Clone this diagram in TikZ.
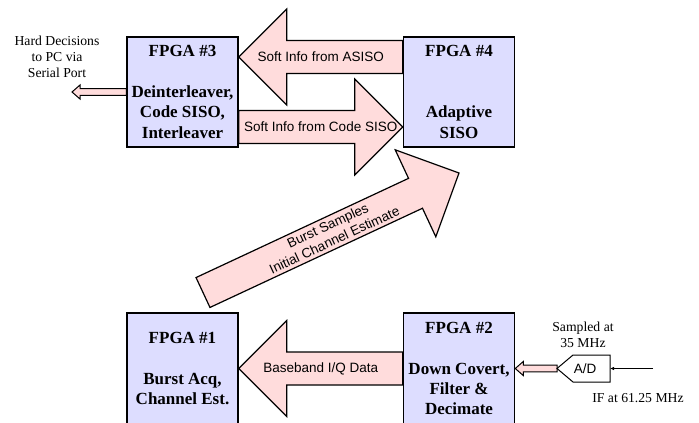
\documentclass[tikz,border=0pt]{standalone}
\usepackage{fontspec}
\setmainfont{Liberation Serif}
\newfontfamily\arialf{Liberation Sans}
\usetikzlibrary{calc,arrows.meta,backgrounds}
\definecolor{boxfill}{HTML}{DDDDFF}
\definecolor{arrfill}{HTML}{FFDCDC}
\tikzset{
 fpga/.style={draw=black, line width=1.5pt, fill=boxfill, minimum width=111pt, inner sep=0pt, align=center, font=\fontsize{17}{20.3}\selectfont\bfseries},
 bigarr/.style={draw=black, line width=1.2pt, fill=arrfill, line join=miter},
 smallarr/.style={draw=black, line width=1pt, fill=arrfill, line join=miter},
 arrlabel/.style={font=\arialf\fontsize{13.5}{16}\selectfont, align=center, inner sep=0pt},
 note/.style={font=\fontsize{13.7}{16}\selectfont, align=center, inner sep=0pt},
}
\newcommand\bigarrow[3]{%
 \coordinate (#1h) at ($(#3)!48pt!(#2)$);
 \draw[bigarr] ($(#2)!16.5pt!90:(#3)$) -- ($(#1h)!16.5pt!90:(#3)$) -- ($(#1h)!48pt!90:(#3)$) -- (#3) -- ($(#1h)!48pt!-90:(#3)$) -- ($(#1h)!16.5pt!-90:(#3)$) -- ($(#2)!16.5pt!-90:(#3)$) -- cycle;}
\newcommand\smallarrow[3]{%
 \coordinate (#1h) at ($(#3)!8pt!(#2)$);
 \draw[smallarr] ($(#2)!3.3pt!90:(#3)$) -- ($(#1h)!3.3pt!90:(#3)$) -- ($(#1h)!7pt!90:(#3)$) -- (#3) -- ($(#1h)!7pt!-90:(#3)$) -- ($(#1h)!3.3pt!-90:(#3)$) -- ($(#2)!3.3pt!-90:(#3)$) -- cycle;}
\begin{document}
\begin{tikzpicture}[x=1pt,y=-1pt]
\path[use as bounding box, clip] (0,0) rectangle (699,423);
% FPGA boxes
\node[fpga, minimum height=110pt] (f3) at (182.5,92) {FPGA \#3\\[20.3pt]Deinterleaver,\\Code SISO,\\Interleaver};
\node[fpga, minimum height=110pt] (f4) at (459,92) {FPGA \#4\\[40.6pt]Adaptive\\SISO};
\node[fpga, minimum height=111pt] (f1) at (182.5,368.5) {FPGA \#1\\[20.3pt]Burst Acq,\\Channel Est.};
\node[fpga, minimum height=111pt] (f2) at (459,368.5) {FPGA \#2\\[20.3pt]Down Covert,\\Filter \&\\Decimate};
% arrow end points
\coordinate (a1s) at ([yshift=35pt]f4.west);
\coordinate (a1t) at ([yshift=35pt]f3.east);
\coordinate (a2s) at ([yshift=-35pt]f3.east);
\coordinate (a2t) at ([yshift=-35pt]f4.west);
\coordinate (d1) at (203,292.5);
\coordinate (d2) at (459,173);
\coordinate (hd) at (72,92);
\coordinate (adL) at (557,368.5);
\coordinate (adR) at (610,368.5);
\coordinate (ifin) at (653,368.5);
\begin{pgfonlayer}{background}
\bigarrow{a1}{a1s}{a1t}
\bigarrow{a2}{a2s}{a2t}
\bigarrow{a3}{f2.west}{f1.east}
\bigarrow{dg}{d1}{d2}
\smallarrow{s1}{f3.west}{hd}
\smallarrow{s2}{adL}{f2.east}
\end{pgfonlayer}
% arrow labels
\node[arrlabel] (l1) at ($(a1s)!0.5!(a1t)$) {Soft Info from ASISO};
\node[arrlabel] (l2) at ($(a2s)!0.5!(a2t)$) {Soft Info from Code SISO};
\node[arrlabel] (l3) at ($(f2.west)!0.5!(f1.east)$) {Baseband I/Q Data};
\node[arrlabel, rotate=25] (l4) at ($(d1)!0.5!(d2)$) {Burst Samples\\Initial Channel Estimate};
% A/D converter
\draw[line width=1pt, fill=white, line join=miter] (adL) -- (573,355) -- (610,355) -- (adR) -- (610,382) -- (573,382) -- cycle;
\node[arrlabel] (ad) at (585,368.5) {A/D};
\draw[line width=0.8pt, -{Latex[length=4pt,width=3.5pt]}] (ifin) -- (adR);
% notes
\node[note] (hdn) at (57,57) {Hard Decisions\\to PC via\\Serial Port};
\node[note] (smp) at (583,335) {Sampled at\\35 MHz};
\node[note] (ifn) at (638,398) {IF at 61.25 MHz};
\end{tikzpicture}
\end{document}
